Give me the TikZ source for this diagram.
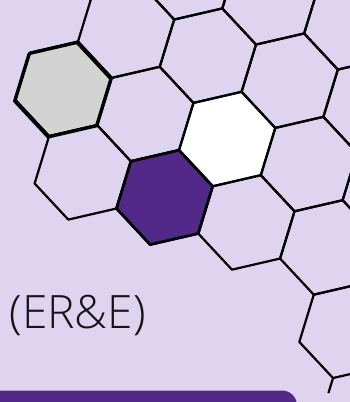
\documentclass[tikz,border=0pt]{standalone}
\usepackage{fontspec}
\usetikzlibrary{calc}
\IfFontExistsTF{Open Sans Light}{\setmainfont{Open Sans Light}}{%
  \IfFontExistsTF{Lato Light}{\setmainfont{Lato Light}}{%
    \IfFontExistsTF{Fira Sans Light}{\setmainfont{Fira Sans Light}}{\setmainfont{Open Sans}}}}
\definecolor{bgc}{RGB}{223,212,240}
\definecolor{purp}{RGB}{82,40,136}
\definecolor{grayhex}{RGB}{211,211,211}
\newcommand{\hexcell}[3]{%
  \pgfmathsetmacro{\hcx}{63.5+(#1)*81.82+(#2)*19.25}%
  \pgfmathsetmacro{\hcy}{89+(#1)*25.02+(#2)*83.37}%
  \begin{scope}[shift={(\hcx,\hcy)}]
    \path[#3] (-73:49.4) -- (-13:49.4) -- (47:49.4) -- (107:49.4) -- (167:49.4) -- (227:49.4) -- cycle;
  \end{scope}}
\begin{document}
\begin{tikzpicture}[x=1pt,y=-1pt,
  hexline/.style={draw=black,line width=2.2pt,line join=round},
  hexbold/.style={draw=black,line width=2.7pt,line join=round},
  labeltext/.style={inner sep=0pt,anchor=base west,text=black!92,font=\fontsize{46}{52}\selectfont}]
\useasboundingbox (0,0) rectangle (350,402);
\fill[bgc] (0,0) rectangle (350,402);
\begin{scope}
  \clip (0,0) rectangle (350,402);
  % fills
  \hexcell{0}{0}{fill=grayhex}
  \hexcell{2}{0}{fill=white}
  \hexcell{1}{1}{fill=purp}
  % outlines
  \foreach \a/\b in {2/-2,3/-2,4/-2,1/-1,2/-1,3/-1,4/-1,0/0,1/0,2/0,3/0,4/0,0/1,1/1,2/1,3/1,3/2}{
    \hexcell{\a}{\b}{hexline}
  }
  % extra edge at the bottom right
  \pgfmathsetmacro{\ex}{63.5+3*81.82+2*19.25}
  \pgfmathsetmacro{\ey}{89+3*25.02+2*83.37}
  \coordinate (e1) at ($(\ex,\ey)+(107:49.4)$);
  \coordinate (e2) at ($(\ex,\ey)+(107:65.1)$);
  \draw[hexline] (e1) -- (e2);
  % bold outlines with shadow
  \begin{scope}[shift={(-1,1)}]
    \hexcell{0}{0}{hexbold}
  \end{scope}
  \hexcell{0}{0}{hexbold}
  \hexcell{1}{1}{hexbold}
  % bottom bar
  \fill[purp,rounded corners=15pt] (-20,390.5) rectangle (297,430);
\end{scope}
\node[labeltext] (lbl) at (9.5,328.5) {(ER\&E)};
\end{tikzpicture}
\end{document}
